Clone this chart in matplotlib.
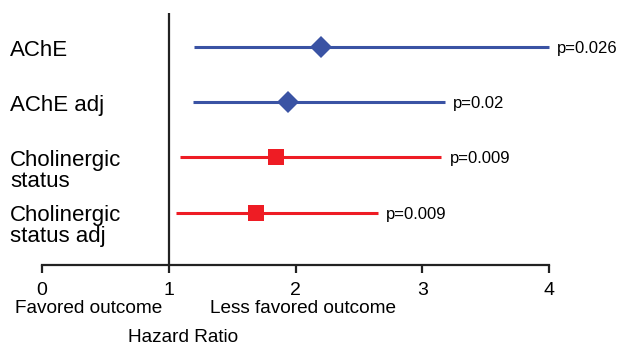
import matplotlib
matplotlib.use("Agg")
import matplotlib.pyplot as plt
import matplotlib.transforms as mtransforms

plt.rcParams['font.family'] = ['Liberation Sans', 'DejaVu Sans']

# ---- data ----
labels = ["AChE", "AChE adj", "Cholinergic\nstatus", "Cholinergic\nstatus adj"]
hr = [2.20, 1.94, 1.85, 1.69]
ci_low = [1.20, 1.19, 1.09, 1.06]
ci_high = [4.00, 3.18, 3.15, 2.65]
pvals = ["p=0.026", "p=0.02", "p=0.009", "p=0.009"]
colors = ["#3A53A4", "#3A53A4", "#EE1C24", "#EE1C24"]
markers = ["D", "D", "s", "s"]
xticks = [0, 1, 2, 3, 4]
xtick_labels = ["0", "1", "2", "3", "4"]

fig = plt.figure(figsize=(6.21, 3.45), dpi=100)
W, H = 621, 345
x0, x4 = 42, 549
ytop, ybot = 13, 265
ax = fig.add_axes([x0 / W, 1 - ybot / H, (x4 - x0) / W, (ybot - ytop) / H])

rows = list(range(len(labels)))
ax.set_xlim(0, 4)
ax.set_ylim(3.95, -0.62)

for i, r in enumerate(rows):
    ax.plot([ci_low[i], ci_high[i]], [r, r], color=colors[i], lw=2.2,
            solid_capstyle='butt', zorder=2, clip_on=False)
    ms = 10.8 if markers[i] == "D" else 11.3
    ax.plot(hr[i], r, marker=markers[i], color=colors[i], ms=ms,
            markeredgewidth=0, zorder=3, clip_on=False)
    ax.annotate(pvals[i], xy=(ci_high[i], r), xytext=(6, -1),
                textcoords='offset points', ha='left', va='center',
                fontsize=12, color='black', annotation_clip=False)

ax.axvline(1, color='#222222', lw=1.6, zorder=1)

for s in ['top', 'right', 'left']:
    ax.spines[s].set_visible(False)
ax.spines['bottom'].set_linewidth(1.6)
ax.spines['bottom'].set_color('#222222')
ax.set_yticks([])
ax.set_xticks(xticks)
ax.set_xticklabels(xtick_labels, fontsize=14)
ax.tick_params(axis='x', direction='out', length=6, width=1.6,
               color='#222222', pad=6.5)

blend = mtransforms.blended_transform_factory(fig.transFigure, ax.transData)
for i, r in enumerate(rows):
    ax.annotate(labels[i], xy=(10 / W, r), xycoords=blend,
                xytext=(0, 5.5), textcoords='offset points',
                ha='left', va='top', fontsize=16, linespacing=1.0,
                annotation_clip=False)

fig.text(89 / W, 1 - 313 / H, "Favored outcome", ha='center', va='baseline', fontsize=13.7)
fig.text(303 / W, 1 - 313 / H, "Less favored outcome", ha='center', va='baseline', fontsize=13.7)
fig.text(183 / W, 1 - 342 / H, "Hazard Ratio", ha='center', va='baseline', fontsize=13.7)

fig.savefig("out.png", dpi=100)
